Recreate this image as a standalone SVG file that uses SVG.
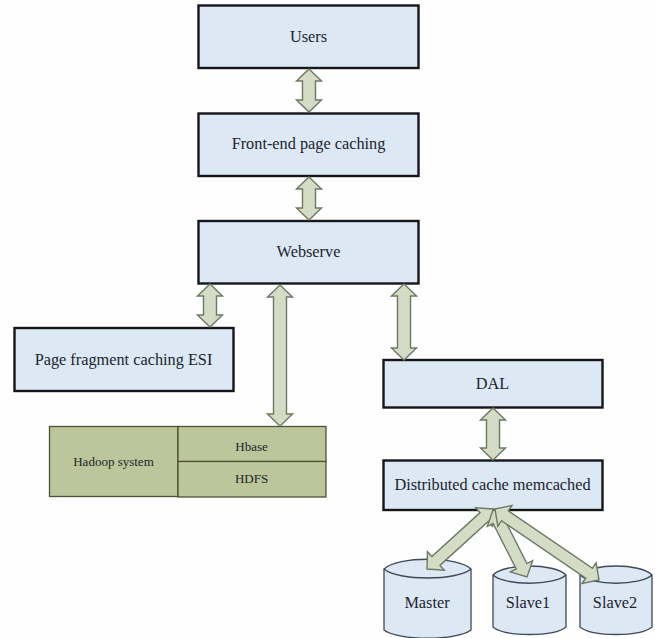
<svg xmlns="http://www.w3.org/2000/svg" width="655" height="638" viewBox="0 0 655 638">
<style>
text{font-family:"Liberation Serif","Times New Roman",serif;fill:#20242c;text-anchor:middle}
.box{fill:#dde8f5;stroke:#15151a;stroke-width:2.4}
.t{font-size:16.3px}
.h{fill:#bdc69a;stroke:#4d5234;stroke-width:1.3}
.s{font-size:13px}
.cy{fill:#dde8f5;stroke:#3c4a58;stroke-width:1.3}
.a{fill:#d4dcc6;stroke:#6d7863;stroke-width:1.4;stroke-linejoin:miter}
</style>
<rect width="655" height="638" fill="#fefefe"/>
<g id="users"><rect class="box" x="198.5" y="5.5" width="220" height="62.5"/><text class="t" x="308.500" y="42">Users</text></g>
<g id="frontend"><rect class="box" x="198.500" y="113.500" width="220" height="62.500"/><text class="t" x="308.500" y="149">Front-end page caching</text></g>
<g id="webserve"><rect class="box" x="198.500" y="221" width="220" height="62.500"/><text class="t" x="308.500" y="256.500">Webserve</text></g>
<g id="esi"><rect class="box" x="14.500" y="328" width="219" height="63"/><text class="t" x="123.500" y="365">Page fragment caching ESI</text></g>
<g id="hadoop">
<rect class="h" x="49.500" y="426.500" width="128.500" height="70"/>
<text class="s" x="113.500" y="466">Hadoop system</text>
</g>
<g id="hbase">
<rect class="h" x="178" y="426.500" width="148" height="35"/>
<text class="s" x="251.500" y="450.500">Hbase</text>
</g>
<g id="hdfs">
<rect class="h" x="178" y="461.500" width="148" height="35.500"/>
<text class="s" x="251.500" y="483">HDFS</text>
</g>
<g id="dal"><rect class="box" x="383.500" y="360" width="219" height="47.500"/><text class="t" x="492.500" y="389">DAL</text></g>
<g id="memcached"><rect class="box" x="383.500" y="460.500" width="219" height="49.500"/><text class="t" x="492.500" y="490">Distributed cache memcached</text></g>
<g id="master"><path class="cy" d="M384,569C398,556 457,556 471,569V630C457,641 398,641 384,630Z"/><path class="cy" d="M384,569C398,581 457,581 471,569"/><text class="t" x="427" y="608">Master</text></g>
<g id="slave1"><path class="cy" d="M493,575C505,563 554,563 566,575V627C554,637 505,637 493,627Z"/><path class="cy" d="M493,575C505,586 554,586 566,575"/><text class="t" x="528" y="608">Slave1</text></g>
<g id="slave2"><path class="cy" d="M580,575C592,563 640,563 652,575V627C640,637 592,637 580,627Z"/><path class="cy" d="M580,575C592,586 640,586 652,575"/><text class="t" x="615" y="608">Slave2</text></g>
<g id="connectors">
<path class="a" d="M309,69L321.500,81H315.500V100H321.500L309,112L296.500,100H302.500V81H296.500Z"/>
<path class="a" d="M309,177L321.500,189H315.500V208H321.500L309,220L296.500,208H302.500V189H296.500Z"/>
<path class="a" d="M210,284L222.500,296H216.500V315H222.500L210,327L197.500,315H203.500V296H197.500Z"/>
<path class="a" d="M280,285L292.500,297H286.500V414H292.500L280,426L267.500,414H273.500V297H267.500Z"/>
<path class="a" d="M404,284L416.500,296H410.500V348H416.500L404,360L391.500,348H397.500V296H391.500Z"/>
<path class="a" d="M493,408L505.500,420H499.500V448H505.500L493,460L480.500,448H486.500V420H480.500Z"/>
<path class="a" transform="translate(493,509) rotate(137.7)" d="M0,0L12,-12.500V-6H77.200V-12.500L89.200,0L77.200,12.500V6H12V12.500Z"/>
<path class="a" transform="translate(493,510) rotate(63.1)" d="M0,0L12,-12.500V-6H63.100V-12.500L75.100,0L63.100,12.500V6H12V12.500Z"/>
<path class="a" transform="translate(495,509) rotate(34.3)" d="M0,0L12,-12.500V-6H113.900V-12.500L125.900,0L113.900,12.500V6H12V12.500Z"/>
</g>
</svg>
